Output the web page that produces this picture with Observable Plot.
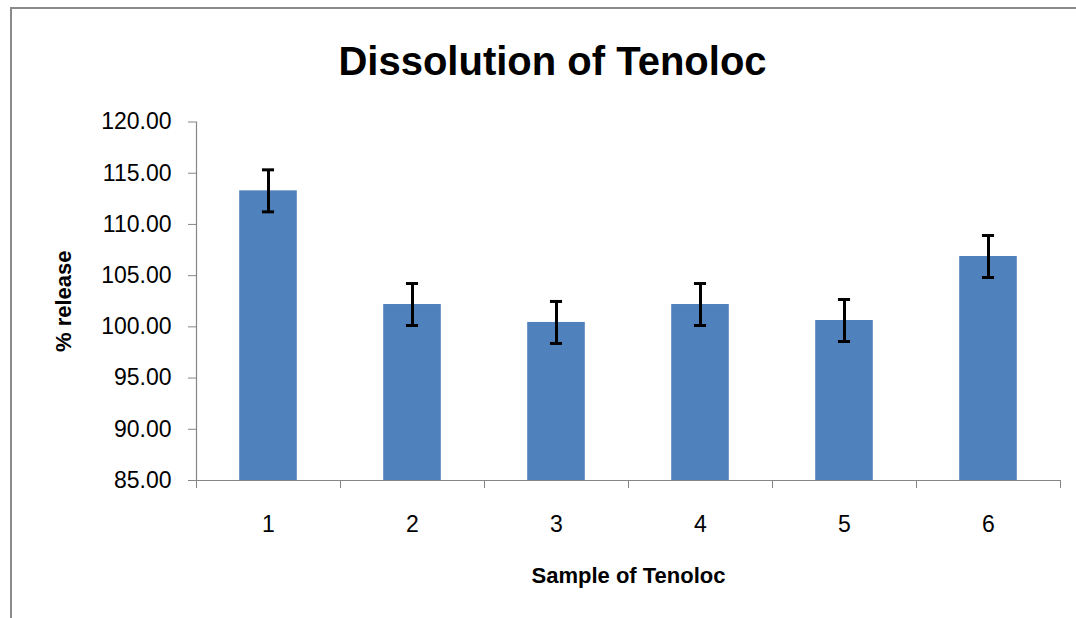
<!DOCTYPE html>
<html><head><meta charset="utf-8">
<script src="https://cdn.jsdelivr.net/npm/d3@7"></script>
<script src="https://cdn.jsdelivr.net/npm/@observablehq/plot@0.6"></script>
<style>
html,body{margin:0;padding:0;background:#fff;overflow:hidden;}
#wrap{position:relative;width:1076px;height:618px;overflow:hidden;}
#frame{position:absolute;left:10px;top:7px;width:1100px;height:640px;border-top:2px solid #8a8a8a;border-left:2px solid #8a8a8a;}
#chart{position:absolute;left:0;top:0;}
</style></head><body>
<div id="wrap"><div id="frame"></div><div id="chart"></div></div>
<script>
const title = "Dissolution of Tenoloc";
const xTitle = "Sample of Tenoloc";
const yTitle = "% release";
const samples = [1, 2, 3, 4, 5, 6];
const release = [113.28, 102.18, 100.43, 102.18, 100.62, 106.87];
const errors = [2.05, 2.05, 2.05, 2.05, 2.05, 2.05];
const yTicks = [85, 90, 95, 100, 105, 110, 115, 120];

const yDomain = [yTicks[0], yTicks[yTicks.length - 1]];
const data = samples.map((s, i) => ({sample: s, value: release[i], err: errors[i]}));
const halfBar = 0.2;
const capHalf = 0.042;
const boundaries = d3.range(samples[0] - 0.5, samples[samples.length - 1] + 1, 1);
const gray = "#868686";

const chart = Plot.plot({
  width: 1076, height: 618,
  marginLeft: 196, marginRight: 16, marginTop: 121.5, marginBottom: 138,
  style: {fontFamily: "'Liberation Sans', Arial, sans-serif", fontSize: "23px", color: "#000", background: "transparent", overflow: "visible"},
  x: {type: "linear", domain: [boundaries[0], boundaries[boundaries.length - 1]], axis: null},
  y: {domain: yDomain, axis: null},
  marks: [
    Plot.rectY(data, {x1: d => d.sample - halfBar, x2: d => d.sample + halfBar, y1: yDomain[0], y2: "value", fill: "#4F81BD"}),
    Plot.ruleX([boundaries[0]], {stroke: gray, strokeWidth: 1.2}),
    Plot.ruleY([yDomain[0]], {stroke: gray, strokeWidth: 1.2}),
    Plot.axisX({ticks: boundaries, tickSize: 8, tickFormat: () => "", stroke: gray, label: null}),
    Plot.axisX({ticks: samples, tickSize: 0, tickPadding: 35, tickFormat: d => String(d), label: null}),
    Plot.axisY({ticks: yTicks, tickSize: 8, tickPadding: 17, tickFormat: d => d.toFixed(2), stroke: gray, label: null}),
    Plot.ruleX(data, {x: "sample", y1: d => d.value - d.err, y2: d => d.value + d.err, stroke: "#000", strokeWidth: 3}),
    Plot.ruleY(data, {y: d => d.value + d.err, x1: d => d.sample - capHalf, x2: d => d.sample + capHalf, stroke: "#000", strokeWidth: 3}),
    Plot.ruleY(data, {y: d => d.value - d.err, x1: d => d.sample - capHalf, x2: d => d.sample + capHalf, stroke: "#000", strokeWidth: 3}),
    Plot.text([title], {frameAnchor: "top", lineAnchor: "top", dx: -76, dy: -75.5, fontSize: 40, fontWeight: "bold", fill: "#000"}),
    Plot.text([xTitle], {frameAnchor: "bottom", lineAnchor: "bottom", dy: 102, fontSize: 22, fontWeight: "bold", fill: "#000"}),
    Plot.text([yTitle], {frameAnchor: "left", textAnchor: "middle", lineAnchor: "middle", dx: -133, rotate: -90, fontSize: 22, fontWeight: "bold", fill: "#000"})
  ]
});
document.getElementById("chart").appendChild(chart);
</script>
</body></html>
